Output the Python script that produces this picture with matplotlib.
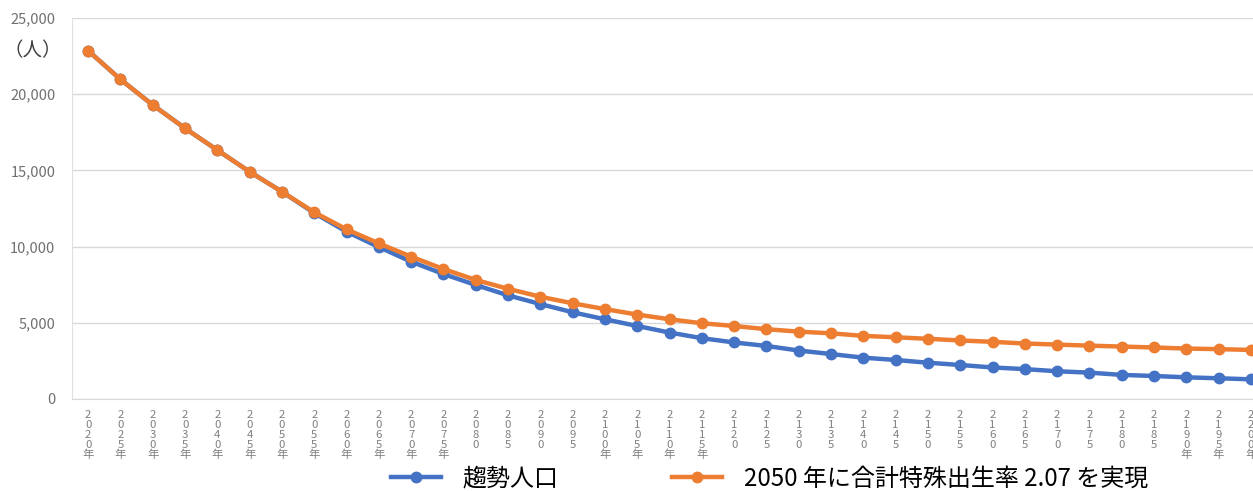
import matplotlib.pyplot as plt
from matplotlib.ticker import FuncFormatter

plt.rcParams['font.family'] = ['Noto Sans CJK JP', 'DejaVu Sans']

years = list(range(2020, 2201, 5))
# 年 が付くラベル（元図のまま）
with_nen = set(range(2020, 2076, 5)) | {2100, 2105, 2110, 2115, 2190, 2195, 2200}
tick_labels = ['\n'.join(str(y) + ('年' if y in with_nen else '')) for y in years]

# 趨勢人口
trend = [22850, 20970, 19290, 17760, 16330, 14910, 13600, 12200, 10980, 9970,
         9010, 8200, 7480, 6800, 6230, 5690, 5230, 4790, 4360, 3990,
         3710, 3480, 3180, 2950, 2710, 2560, 2380, 2230, 2070, 1960,
         1820, 1730, 1580, 1510, 1420, 1360, 1290]
# 2050年に合計特殊出生率2.07を実現
target = [22850, 20970, 19290, 17760, 16330, 14910, 13600, 12250, 11130, 10210,
          9340, 8530, 7810, 7230, 6710, 6280, 5900, 5540, 5230, 4970,
          4790, 4580, 4420, 4310, 4140, 4050, 3950, 3840, 3750, 3640,
          3570, 3500, 3440, 3380, 3310, 3270, 3220]

fig = plt.figure(figsize=(12.53, 4.91), dpi=100)
ax = fig.add_axes([0.0575, 0.1874, 0.9537, 0.7759])

x = range(len(years))
ax.plot(x, trend, color='#4472C4', lw=3.2, marker='o', ms=7.5, label='趨勢人口', zorder=3)
ax.plot(x, target, color='#ED7D31', lw=3.2, marker='o', ms=7.5,
        label='2050 年に合計特殊出生率 2.07 を実現', zorder=4)

ax.set_xlim(-0.5, len(years) - 0.5)
ax.set_ylim(0, 25000)
ax.set_yticks(range(0, 25001, 5000))
ax.yaxis.set_major_formatter(FuncFormatter(lambda v, p: f'{int(v):,}'))
ax.set_xticks(list(x))
ax.set_xticklabels(tick_labels, fontsize=8.2, color='#808080', linespacing=0.98, va='top')

ax.grid(axis='y', color='#d9d9d9', lw=1)
ax.set_axisbelow(True)
for s in ['top', 'right']:
    ax.spines[s].set_visible(False)
ax.spines['left'].set_color('#e0e0e0')
ax.spines['bottom'].set_color('#d9d9d9')
ax.tick_params(axis='y', length=0, labelsize=10.5, labelcolor='#707070', pad=12)
ax.tick_params(axis='x', length=0, pad=8)

fig.text(0.003, 0.885, '（人）', fontsize=14, color='#404040')

fig.legend(loc='lower center', bbox_to_anchor=(0.614, -0.045), ncol=2, frameon=False,
           fontsize=17.3, handlelength=2.1, handletextpad=0.9, columnspacing=4.7)

fig.savefig('out.png', dpi=100)
